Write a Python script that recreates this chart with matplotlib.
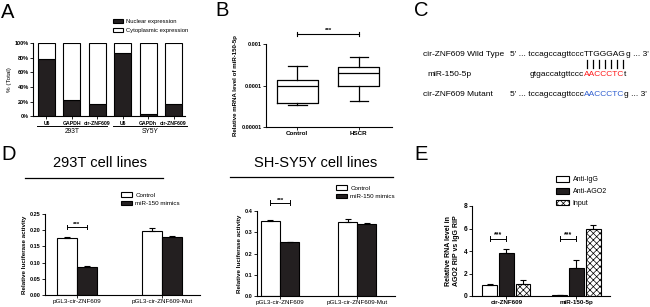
import matplotlib
matplotlib.use("Agg")
import matplotlib.pyplot as plt
import matplotlib.transforms as mtransforms
from matplotlib.lines import Line2D
from matplotlib.ticker import NullLocator
import numpy as np

plt.rcParams['font.family'] = ['Liberation Sans', 'DejaVu Sans']
plt.rcParams['hatch.linewidth'] = 0.5
plt.rcParams['axes.linewidth'] = 0.8

W, H = 650, 307
DARK = '#231f20'
RED = '#ff1a1a'
BLUE = '#2f5fd0'

# ---- data ----
# A: nuclear / cytoplasmic fractions
a_genes = ['U6', 'GAPDH', 'cir-ZNF609', 'U6', 'GAPDh', 'cir-ZNF609']
a_nuclear = [78, 22, 17, 86, 3, 17]
a_cells = ['293T', 'SY5Y']

# B: miR-150-5p box plots
b_groups = ['Control', 'HSCR']
b_whislo = [3.3e-5, 4.3e-5]
b_q1 = [3.8e-5, 9.5e-5]
b_med = [9.5e-5, 2.0e-4]
b_q3 = [1.35e-4, 2.8e-4]
b_whishi = [2.9e-4, 4.8e-4]

# D: luciferase
d_constructs = ['pGL3-cir-ZNF609', 'pGL3-cir-ZNF609-Mut']
d293_ctrl = [0.175, 0.198]
d293_ctrl_err = [0.003, 0.009]
d293_mimic = [0.087, 0.179]
d293_mimic_err = [0.002, 0.003]
dsy_ctrl = [0.352, 0.350]
dsy_ctrl_err = [0.004, 0.012]
dsy_mimic = [0.252, 0.340]
dsy_mimic_err = [0.003, 0.003]

# E: RIP
e_targets = ['cir-ZNF609', 'miR-150-5p']
e_igg = [1.0, 0.08]
e_igg_err = [0.05, 0.02]
e_ago2 = [3.8, 2.5]
e_ago2_err = [0.35, 0.7]
e_input = [1.1, 6.0]
e_input_err = [0.35, 0.35]

fig = plt.figure(figsize=(6.5, 3.07), dpi=100)


def px_axes(l, t, r, b):
    ax = fig.add_axes([l / W, 1 - b / H, (r - l) / W, (b - t) / H])
    ax.spines['top'].set_visible(False)
    ax.spines['right'].set_visible(False)
    ax.tick_params(direction='out', length=2, width=0.6, pad=1)
    return ax


def ftext(x, y, s, **kw):
    kw.setdefault('va', 'center')
    return fig.text(x / W, 1 - y / H, s, **kw)


def fline(x0, x1, y, lw=0.9):
    fig.add_artist(Line2D([x0 / W, x1 / W], [1 - y / H, 1 - y / H], color='black', lw=lw))


def sig(ax, x0, x1, y, h, fs=4.5):
    ax.plot([x0, x1], [y, y], color='black', lw=0.7, clip_on=False)
    ax.plot([x0, x0], [y - h, y + h], color='black', lw=0.7, clip_on=False)
    ax.plot([x1, x1], [y - h, y + h], color='black', lw=0.7, clip_on=False)
    ax.text((x0 + x1) / 2, y, '***', ha='center', va='bottom', fontsize=fs,
            fontweight='bold', clip_on=False)


# panel letters
for letter, x, y in [('A', 1, 12), ('B', 215, 11), ('C', 414, 11), ('D', 1, 155), ('E', 414, 155)]:
    ftext(x, y, letter, fontsize=14.5, ha='left')

# ---------------- A ----------------
axA = px_axes(33, 43, 185, 116.5)
xa = np.arange(len(a_genes))
a_cyto = [100 - v for v in a_nuclear]
bn = axA.bar(xa, a_nuclear, 0.67, color=DARK, edgecolor='black', lw=0.8, label='Nuclear expression')
bc = axA.bar(xa, a_cyto, 0.67, bottom=a_nuclear, color='white', edgecolor='black', lw=0.8,
             label='Cytoplasmic expression')
axA.set_xlim(-0.53, 5.45)
axA.set_ylim(0, 100)
axA.set_yticks(range(0, 101, 20), [f'{v}%' for v in range(0, 101, 20)], fontsize=4.0, fontweight='bold')
axA.set_xticks(xa, a_genes, fontsize=3.7, fontweight='bold')
axA.set_ylabel('% (Total)', fontsize=4.5, labelpad=2)
trA = mtransforms.blended_transform_factory(axA.transData, axA.transAxes)
for (x0, x1), cell in zip([(-0.37, 2.38), (2.62, 5.53)], a_cells):
    axA.plot([x0, x1], [-0.13, -0.13], transform=trA, color='black', lw=0.7, clip_on=False)
    axA.text((x0 + x1) / 2, -0.16, cell, transform=trA, ha='center', va='top', fontsize=4.8)
axA.legend(handles=[bn, bc], loc='upper left', bbox_to_anchor=(113 / W, 1 - 19 / H),
           bbox_transform=fig.transFigure, frameon=False, fontsize=4.2, handlelength=1.7,
           handleheight=0.8, labelspacing=0.6, handletextpad=0.5, borderpad=0, borderaxespad=0)

# ---------------- B ----------------
axB = px_axes(266, 44, 392, 127)
stats = [dict(label=g, whislo=lo, q1=q1, med=md, q3=q3, whishi=hi, fliers=[])
         for g, lo, q1, md, q3, hi in zip(b_groups, b_whislo, b_q1, b_med, b_q3, b_whishi)]
lp = dict(color='black', lw=0.9)
axB.bxp(stats, positions=[1, 2], widths=0.67, capwidths=0.3, showfliers=False,
        boxprops=lp, whiskerprops=lp, capprops=lp, medianprops=lp)
axB.set_yscale('log')
axB.set_ylim(1e-5, 1e-3)
axB.set_xlim(0.49, 2.54)
axB.set_yticks([1e-5, 1e-4, 1e-3], ['0.00001', '0.0001', '0.001'], fontsize=4, fontweight='bold')
axB.yaxis.set_minor_locator(NullLocator())
axB.set_xticks([1, 2], b_groups, fontsize=4.5, fontweight='bold')
axB.set_ylabel('Relative mRNA level of miR-150-5p', fontsize=4.4, fontweight='bold', labelpad=3)
axB.plot([1, 2], [1.74e-3, 1.74e-3], color='black', lw=0.8, clip_on=False)
for xv in (1, 2):
    axB.plot([xv, xv], [1.6e-3, 1.9e-3], color='black', lw=0.8, clip_on=False)
axB.text(1.5, 1.85e-3, '***', ha='center', va='bottom', fontsize=4.5, fontweight='bold')

# ---------------- C ----------------
fig.canvas.draw()
rend = fig.canvas.get_renderer()
FS_C = 6


def chain(x, y, parts):
    for s, c in parts:
        t = ftext(x, y, s, color=c, fontsize=FS_C, ha='left')
        x = t.get_window_extent(rend).x1
    return x


SPLIT = 584
ftext(423, 55, 'cir-ZNF609 Wild Type', fontsize=FS_C, ha='left')
ftext(SPLIT, 55, "5' ... tccagccagttccc", fontsize=FS_C, ha='right')
wt = ftext(SPLIT, 55, 'TTGGGAG', fontsize=FS_C, ha='left')
chain(wt.get_window_extent(rend).x1, 55, [("g ... 3'", 'black')])

ftext(427, 74, 'miR-150-5p', fontsize=FS_C, ha='left')
ftext(SPLIT, 74, 'gtgaccatgttccc', fontsize=FS_C, ha='right')
mr = ftext(SPLIT, 74, 'AACCCTC', fontsize=FS_C, ha='left', color=RED)
chain(mr.get_window_extent(rend).x1, 74, [('t', 'black')])

ftext(423, 94, 'cir-ZNF609 Mutant', fontsize=FS_C, ha='left')
ftext(SPLIT, 94, "5' ... tccagccagttccc", fontsize=FS_C, ha='right')
mt = ftext(SPLIT, 94, 'AACCCTC', fontsize=FS_C, ha='left', color=BLUE)
chain(mt.get_window_extent(rend).x1, 94, [("g ... 3'", 'black')])

bb = wt.get_window_extent(rend)
step = (bb.x1 - bb.x0) / 7
for i in range(7):
    xc = bb.x0 + (i + 0.5) * step
    fig.add_artist(Line2D([xc / W, xc / W], [1 - 59.5 / H, 1 - 68 / H], color='black', lw=0.9))

# ---------------- D ----------------
def lucif(ax, ctrl, ctrl_err, mim, mim_err, w, ymax, yticks, fmt):
    xd = np.arange(len(d_constructs))
    ek = dict(ecolor='black', elinewidth=0.8, capsize=2.5, capthick=0.8)
    hc = ax.bar(xd - w / 2, ctrl, w, color='white', edgecolor='black', lw=0.8, label='Control',
                yerr=[[0] * len(ctrl), ctrl_err], error_kw=ek)
    hm = ax.bar(xd + w / 2, mim, w, color=DARK, edgecolor='black', lw=0.8, label='miR-150 mimics',
                yerr=[[0] * len(mim), mim_err], error_kw=ek)
    ax.set_ylim(0, ymax)
    ax.set_yticks(yticks, [fmt.format(v) for v in yticks], fontsize=4, fontweight='bold')
    ax.set_xticks(xd, d_constructs, fontsize=4.5)
    ax.set_ylabel('Relative luciferase activity', fontsize=4.5, fontweight='bold', labelpad=2)
    return hc, hm


axD1 = px_axes(45, 214, 200, 295)
h1 = lucif(axD1, d293_ctrl, d293_ctrl_err, d293_mimic, d293_mimic_err, 0.235, 0.25,
           [0, 0.05, 0.10, 0.15, 0.20, 0.25], '{:.2f}')
axD1.set_xlim(-0.376, 1.447)
sig(axD1, -0.118, 0.118, 0.21, 0.006)
axD1.legend(handles=h1, loc='upper left', bbox_to_anchor=(121 / W, 1 - 192 / H),
            bbox_transform=fig.transFigure, frameon=False, fontsize=4.5, handlelength=1.7,
            handleheight=0.8, labelspacing=0.5, handletextpad=0.6, borderpad=0, borderaxespad=0)
ftext(100, 163, '293T cell lines', fontsize=10.5, ha='center')
fline(25, 163, 178)

axD2 = px_axes(257, 211, 395, 296)
h2 = lucif(axD2, dsy_ctrl, dsy_ctrl_err, dsy_mimic, dsy_mimic_err, 0.25, 0.4,
           [0, 0.1, 0.2, 0.3, 0.4], '{:.1f}')
axD2.set_xlim(-0.3, 1.49)
sig(axD2, -0.125, 0.125, 0.44, 0.01)
axD2.legend(handles=h2, loc='upper left', bbox_to_anchor=(336 / W, 1 - 185 / H),
            bbox_transform=fig.transFigure, frameon=False, fontsize=4.5, handlelength=1.7,
            handleheight=0.8, labelspacing=0.5, handletextpad=0.6, borderpad=0, borderaxespad=0)
ftext(316, 163, 'SH-SY5Y cell lines', fontsize=10.5, ha='center')
fline(230, 393, 177)

# ---------------- E ----------------
axE = px_axes(472, 206, 610, 296)
xe = np.arange(len(e_targets))
we = 0.21
ek = dict(ecolor='black', elinewidth=0.8, capsize=2.5, capthick=0.8)
zeros = [0] * len(e_targets)
hi = axE.bar(xe - 0.24, e_igg, we, color='white', edgecolor='black', lw=0.8, label='Anti-IgG',
             yerr=[zeros, e_igg_err], error_kw=ek)
ha_ = axE.bar(xe, e_ago2, we, color=DARK, edgecolor='black', lw=0.8, label='Anti-AGO2',
              yerr=[zeros, e_ago2_err], error_kw=ek)
hn = axE.bar(xe + 0.24, e_input, we, color='white', edgecolor='black', lw=0.8, hatch='xxxxx',
             label='Input', yerr=[zeros, e_input_err], error_kw=ek)
axE.set_xlim(-0.49, 1.48)
axE.set_ylim(0, 8)
axE.set_yticks(range(0, 9, 2), [str(v) for v in range(0, 9, 2)], fontsize=4.8, fontweight='bold')
axE.set_xticks(xe, e_targets, fontsize=4.5, fontweight='bold')
axE.set_ylabel('Relative RNA level in\nAGO2 RIP vs IgG RIP', fontsize=5, fontweight='bold', labelpad=3)
for xv in xe:
    sig(axE, xv - 0.24, xv, 5.1, 0.2, fs=5)
axE.legend(handles=[hi, ha_, hn], loc='upper left', bbox_to_anchor=(556 / W, 1 - 176 / H),
           bbox_transform=fig.transFigure, frameon=False, fontsize=5, handlelength=1.8,
           handleheight=0.9, labelspacing=0.65, handletextpad=0.6, borderpad=0, borderaxespad=0)

fig.savefig('out.png', dpi=100)
